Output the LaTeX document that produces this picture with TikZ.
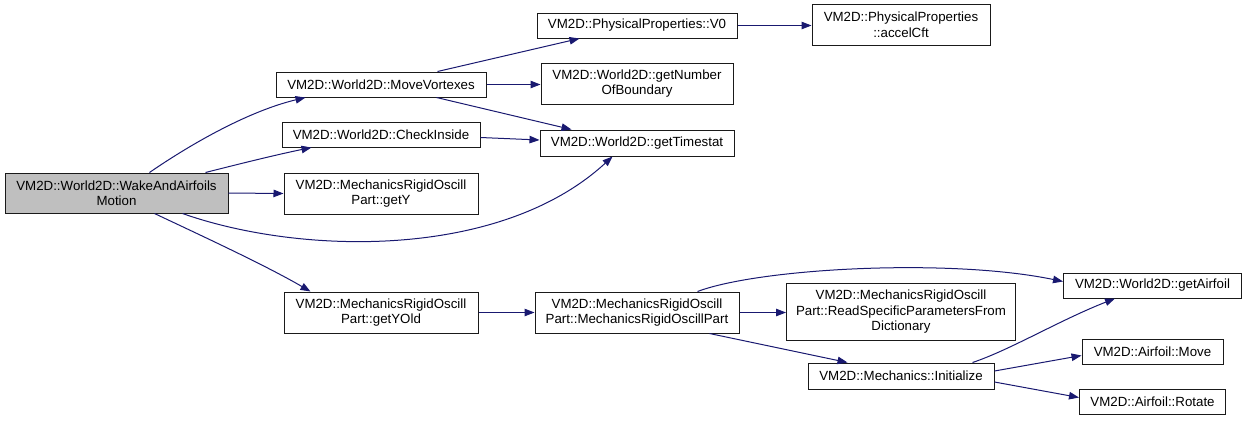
\documentclass[tikz,border=0pt]{standalone}
\usepackage{fontspec}
\setmainfont{Liberation Sans}
\usetikzlibrary{arrows.meta,calc}
\definecolor{edgeblue}{HTML}{191970}
\definecolor{mainfill}{HTML}{BFBFBF}
\definecolor{boxline}{HTML}{1A1A1A}
\begin{document}
\begin{tikzpicture}[x=1pt,y=-1pt,
  box/.style={draw=boxline,line width=1pt,fill=white,inner sep=0pt,align=center,
    font=\fontsize{13.3}{15.5}\selectfont},
  edge/.style={draw=edgeblue,line width=1pt,-{Triangle[length=10pt,width=7.5pt]}}]
\useasboundingbox (0,0) rectangle (1247,421);
\node[box,fill=mainfill,minimum width=223pt,minimum height=40pt] (main) at (116.5,193) {VM2D::World2D::WakeAndAirfoils\\Motion};
\node[box,minimum width=210pt,minimum height=25pt] (mv) at (381,84.5) {VM2D::World2D::MoveVortexes};
\node[box,minimum width=198pt,minimum height=25pt] (ci) at (381,134.5) {VM2D::World2D::CheckInside};
\node[box,minimum width=194pt,minimum height=41pt] (gety) at (381,193.5) {VM2D::MechanicsRigidOscill\\Part::getY};
\node[box,minimum width=194pt,minimum height=41pt] (getyold) at (381,312.5) {VM2D::MechanicsRigidOscill\\Part::getYOld};
\node[box,minimum width=200pt,minimum height=25pt] (v0) at (637,25.5) {VM2D::PhysicalProperties::V0};
\node[box,minimum width=192pt,minimum height=41pt] (gnb) at (637,83.5) {VM2D::World2D::getNumber\\OfBoundary};
\node[box,minimum width=194pt,minimum height=26pt] (gts) at (637,143) {VM2D::World2D::getTimestat};
\node[box,minimum width=204pt,minimum height=41pt] (mro) at (637,312.5) {VM2D::MechanicsRigidOscill\\Part::MechanicsRigidOscillPart};
\node[box,minimum width=178pt,minimum height=41pt] (accel) at (901,24.5) {VM2D::PhysicalProperties\\::accelCft};
\node[box,minimum width=229pt,minimum height=57pt] (rsp) at (901,312) {VM2D::MechanicsRigidOscill\\Part::ReadSpecificParametersFrom\\Dictionary};
\node[box,minimum width=186pt,minimum height=26pt] (init) at (901,376) {VM2D::Mechanics::Initialize};
\node[box,minimum width=178pt,minimum height=25pt] (gaf) at (1152.5,285.5) {VM2D::World2D::getAirfoil};
\node[box,minimum width=141pt,minimum height=25pt] (move) at (1152.5,351.5) {VM2D::Airfoil::Move};
\node[box,minimum width=146pt,minimum height=25pt] (rotate) at (1152.5,401.5) {VM2D::Airfoil::Rotate};

% edges
\draw[edge] ($(main.north west)+(145,0)$) .. controls (185,148) and (245,112) .. ($(mv.south west)+(30,0)$);
\draw[edge] ($(main.north west)+(201,0)$) .. controls (235,165) and (275,155) .. ($(ci.south west)+(30,0)$);
\draw[edge] (main.east) -- (gety.west);
\draw[edge] ($(main.south west)+(178,0)$) .. controls (300,255) and (500,260) .. ($(gts.south west)+(73,0)$);
\draw[edge] ($(main.south west)+(150,0)$) .. controls (200,235) and (265,265) .. ($(getyold.north west)+(27,0)$);
\draw[edge] ($(mv.north west)+(162,0)$) -- ($(v0.south west)+(43,0)$);
\draw[edge] (mv.east) -- (mv.east -| gnb.west);
\draw[edge] ($(mv.south west)+(161,0)$) -- ($(gts.north west)+(32,0)$);
\draw[edge] ($(ci.east)+(0,3)$) -- ($(gts.west)+(0,-3)$);
\draw[edge] (v0.east) -- (v0.east -| accel.west);
\draw[edge] (getyold.east) -- (mro.west);
\draw[edge] ($(mro.north west)+(163,0)$) .. controls (760,268) and (950,258) .. ($(gaf.west)+(0,-4)$);
\draw[edge] (mro.east) -- (mro.east -| rsp.west);
\draw[edge] ($(mro.south west)+(175,0)$) -- ($(init.north west)+(40,0)$);
\draw[edge] ($(init.north west)+(165,0)$) .. controls (1010,350) and (1060,320) .. ($(gaf.south west)+(52,0)$);
\draw[edge] ($(init.east)+(0,-5)$) -- ($(move.west)+(0,4)$);
\draw[edge] ($(init.east)+(0,6)$) -- ($(rotate.west)+(0,-4)$);
\end{tikzpicture}
\end{document}
